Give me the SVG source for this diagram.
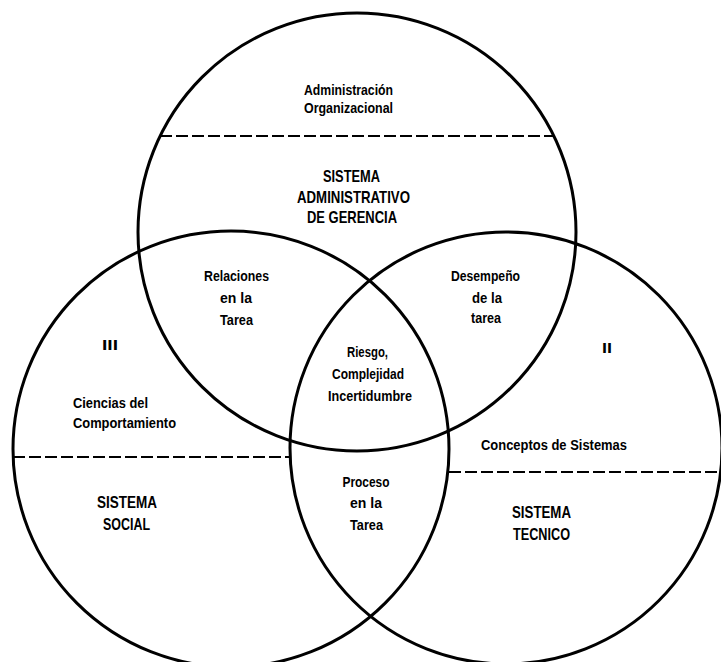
<svg xmlns="http://www.w3.org/2000/svg" width="721" height="662" viewBox="0 0 721 662">
  <style>
    .ring { fill: none; stroke: #000; stroke-width: 3; }
    .split { fill: none; stroke: #000; stroke-width: 2.2; stroke-dasharray: 12 4; }
    text { font-family: "Liberation Sans", Arial, sans-serif; font-weight: bold; fill: #000; }
    .lo { font-size: 15px; }
    .up { font-size: 17px; }
    .c { text-anchor: middle; }
  </style>
  <rect width="721" height="662" fill="#fff"/>

  <!-- dashed dividers inside each circle -->
  <g id="connectors">
    <line class="split" x1="160" y1="136" x2="554" y2="136"/>
    <line class="split" x1="13" y1="457" x2="290" y2="457"/>
    <line class="split" x1="449" y1="472" x2="722" y2="472"/>
  </g>

  <!-- Sistema administrativo de gerencia -->
  <g id="sistema-administrativo">
    <circle class="ring" cx="357" cy="232" r="219"/>
    <text class="lo c" x="348.5" y="95" textLength="89" lengthAdjust="spacingAndGlyphs">Administración</text>
    <text class="lo c" x="348.5" y="113" textLength="89" lengthAdjust="spacingAndGlyphs">Organizacional</text>
    <text class="up c" x="351.5" y="182" textLength="57" lengthAdjust="spacingAndGlyphs">SISTEMA</text>
    <text class="up c" x="353.5" y="203" textLength="113" lengthAdjust="spacingAndGlyphs">ADMINISTRATIVO</text>
    <text class="up c" x="352" y="223" textLength="90" lengthAdjust="spacingAndGlyphs">DE GERENCIA</text>
  </g>

  <!-- Sistema social -->
  <g id="sistema-social">
    <circle class="ring" cx="231" cy="449" r="218"/>
    <text class="lo c" x="110" y="350" textLength="16" lengthAdjust="spacingAndGlyphs">III</text>
    <text class="lo" x="73" y="408" textLength="75" lengthAdjust="spacingAndGlyphs">Ciencias del</text>
    <text class="lo" x="73" y="428" textLength="103" lengthAdjust="spacingAndGlyphs">Comportamiento</text>
    <text class="up c" x="127" y="508" textLength="60" lengthAdjust="spacingAndGlyphs">SISTEMA</text>
    <text class="up c" x="126.5" y="530" textLength="47" lengthAdjust="spacingAndGlyphs">SOCIAL</text>
  </g>

  <!-- Sistema tecnico -->
  <g id="sistema-tecnico">
    <circle class="ring" cx="506" cy="448" r="216"/>
    <text class="lo c" x="607" y="353" textLength="10" lengthAdjust="spacingAndGlyphs">II</text>
    <text class="lo" x="481" y="450" textLength="146" lengthAdjust="spacingAndGlyphs">Conceptos de Sistemas</text>
    <text class="up c" x="541.5" y="518" textLength="59" lengthAdjust="spacingAndGlyphs">SISTEMA</text>
    <text class="up c" x="541.5" y="540" textLength="57" lengthAdjust="spacingAndGlyphs">TECNICO</text>
  </g>

  <!-- overlap: administrativo / social -->
  <g id="relaciones-tarea">
    <text class="lo c" x="236.5" y="281" textLength="65" lengthAdjust="spacingAndGlyphs">Relaciones</text>
    <text class="lo c" x="236" y="303" textLength="32" lengthAdjust="spacingAndGlyphs">en la</text>
    <text class="lo c" x="236.5" y="325" textLength="33" lengthAdjust="spacingAndGlyphs">Tarea</text>
  </g>

  <!-- overlap: administrativo / tecnico -->
  <g id="desempeno-tarea">
    <text class="lo c" x="485.5" y="281" textLength="69" lengthAdjust="spacingAndGlyphs">Desempeño</text>
    <text class="lo c" x="487" y="303" textLength="30" lengthAdjust="spacingAndGlyphs">de la</text>
    <text class="lo c" x="486" y="323" textLength="30" lengthAdjust="spacingAndGlyphs">tarea</text>
  </g>

  <!-- overlap: all three -->
  <g id="riesgo">
    <text class="lo c" x="367.5" y="357" textLength="41" lengthAdjust="spacingAndGlyphs">Riesgo,</text>
    <text class="lo c" x="368" y="379" textLength="72" lengthAdjust="spacingAndGlyphs">Complejidad</text>
    <text class="lo c" x="370" y="401" textLength="84" lengthAdjust="spacingAndGlyphs">Incertidumbre</text>
  </g>

  <!-- overlap: social / tecnico -->
  <g id="proceso-tarea">
    <text class="lo c" x="366" y="487" textLength="47" lengthAdjust="spacingAndGlyphs">Proceso</text>
    <text class="lo c" x="366" y="508" textLength="32" lengthAdjust="spacingAndGlyphs">en la</text>
    <text class="lo c" x="366.5" y="530" textLength="33" lengthAdjust="spacingAndGlyphs">Tarea</text>
  </g>
</svg>
